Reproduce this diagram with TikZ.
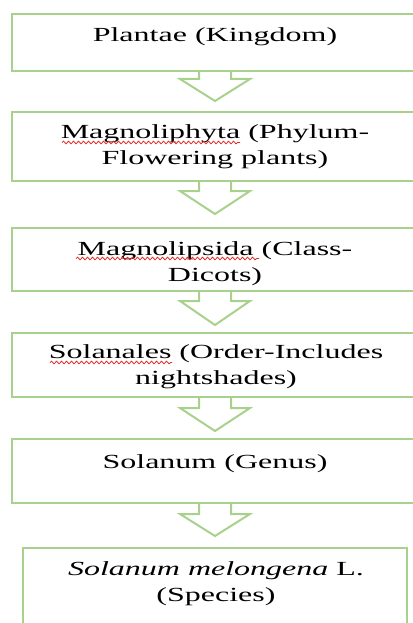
\documentclass[tikz,border=0pt]{standalone}
\usepackage{fontspec}
\setmainfont{Liberation Serif}
\usepackage{graphicx}
\usetikzlibrary{calc,decorations.pathmorphing}
\definecolor{boxgreen}{RGB}{169,209,142}
\definecolor{spellred}{RGB}{230,40,40}
\newcommand\sx[1]{\scalebox{1.6}[1]{#1}}
\newcommand\twolines[2]{\sx{\begin{tabular}[t]{@{}c@{}}#1\\#2\end{tabular}}}
\newcommand\blockarrow[4]{%
  \draw[blockarr] ($(#1.south)+(-16,0)$) -- ++(0,#3) -- ++(-19,0)
    -- ($(#2.north)+(0,-#4)$) -- ($(#1.south)+(35,#3)$) -- ++(-19,0) -- ++(0,-#3);}
\begin{document}
\begin{tikzpicture}[x=1pt,y=-1pt,
  box/.style={draw=boxgreen, line width=2pt, rectangle, inner sep=0pt, minimum width=406pt},
  txt/.style={font=\fontsize{20}{26}\selectfont, inner sep=0pt, anchor=base, text=black},
  blockarr/.style={draw=boxgreen, line width=2pt, line join=miter},
  squig/.style={draw=spellred, line width=0.8pt, decorate, decoration={snake, amplitude=1.3pt, segment length=5pt}}]
\useasboundingbox (0,0) rectangle (412,623);
% boxes
\node[box, minimum height=57pt] (b1) at (215,42.5) {};
\node[box, minimum height=69pt] (b2) at (215,146.5) {};
\node[box, minimum height=63pt] (b3) at (215,259.5) {};
\node[box, minimum height=64pt] (b4) at (215,365) {};
\node[box, minimum height=64pt] (b5) at (215,471) {};
\node[box, minimum width=384pt, minimum height=112pt] (b6) at (215,604) {};
% texts
\node[txt] (t1) at (215,42) {\sx{Plantae (Kingdom)}};
\node[txt] (t2) at (215,138) {\twolines{Magnoliphyta (Phylum-}{Flowering plants)}};
\node[txt] (t3) at (215,255) {\twolines{Magnolipsida (Class-}{Dicots)}};
\node[txt] (t4) at (216,358) {\twolines{Solanales (Order-Includes}{nightshades)}};
\node[txt] (t5) at (215,468) {\sx{Solanum (Genus)}};
\node[txt] (t6) at (216,575) {\twolines{\textit{Solanum melongena} L.}{(Species)}};
% spell-check underlines
\draw[squig] (62,142.5) -- (240,142.5);
\draw[squig] (76,258.5) -- (259,258.5);
\draw[squig] (50,362.5) -- (172,362.5);
% block arrows
\blockarrow{b1}{b2}{7}{10}
\blockarrow{b2}{b3}{9}{13}
\blockarrow{b3}{b4}{9}{7}
\blockarrow{b4}{b5}{10}{7}
\blockarrow{b5}{b6}{10}{11}
\end{tikzpicture}
\end{document}
